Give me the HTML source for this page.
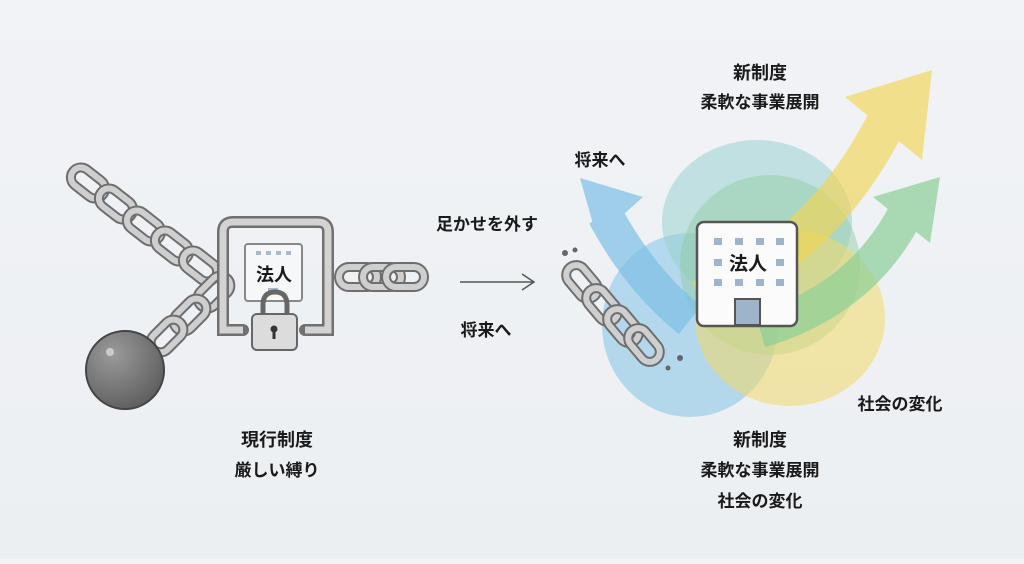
<!DOCTYPE html>
<html><head><meta charset="utf-8"><style>
html,body{margin:0;padding:0}
body{width:1024px;height:559px;overflow:hidden;background:linear-gradient(180deg,#f1f3f6,#eceff2);font-family:"Liberation Sans","Noto Sans CJK JP",sans-serif}
svg text{font-family:"Liberation Sans","Noto Sans CJK JP",sans-serif;font-weight:bold;fill:#1a1a1a;text-anchor:middle}
</style></head><body>
<svg width="1024" height="559" viewBox="0 0 1024 559">
<defs>
<g id="lk"><rect x="-19" y="-10" width="38" height="20" rx="10" fill="none" stroke="#6e6e6e" stroke-width="10"/><rect x="-19" y="-10" width="38" height="20" rx="10" fill="none" stroke="#cfcfcf" stroke-width="6"/></g>
<radialGradient id="ball" cx="0.35" cy="0.3" r="0.8"><stop offset="0" stop-color="#9a9a9a"/><stop offset="1" stop-color="#5a5a5a"/></radialGradient>
</defs>
<!-- upper-left chain -->
<g transform="translate(88,183) rotate(38)"><use href="#lk"/></g>
<g transform="translate(116,204) rotate(38)"><use href="#lk"/></g>
<g transform="translate(144,226) rotate(38)"><use href="#lk"/></g>
<g transform="translate(172,246) rotate(38)"><use href="#lk"/></g>
<g transform="translate(200,266) rotate(38)"><use href="#lk"/></g>
<!-- lower chain to ball -->
<g transform="translate(214,292) rotate(-45)"><use href="#lk"/></g>
<g transform="translate(190,315) rotate(-45)"><use href="#lk"/></g>
<g transform="translate(167,336) rotate(-45)"><use href="#lk"/></g>
<circle cx="125" cy="370" r="39" fill="url(#ball)" stroke="#444" stroke-width="2"/>
<circle cx="110" cy="352" r="4" fill="#ccc"/>
<!-- right chain -->
<g transform="translate(358,277)"><use href="#lk"/></g>
<g transform="translate(382,277)"><use href="#lk"/></g>
<g transform="translate(405,277)"><use href="#lk"/></g>
<!-- box -->
<path d="M243,330 H223 V232 Q223,222 233,222 H318 Q328,222 328,232 V330 H305" fill="none" stroke="#707070" stroke-width="12" stroke-linecap="round"/>
<path d="M243,330 H223 V232 Q223,222 233,222 H318 Q328,222 328,232 V330 H305" fill="none" stroke="#d3d3d3" stroke-width="7"/>
<rect x="245" y="244" width="57" height="57" rx="3" fill="#f6f7f9" stroke="#888" stroke-width="2"/>
<g fill="#a9bbcc"><rect x="256" y="251" width="5" height="4"/><rect x="266" y="251" width="5" height="4"/><rect x="276" y="251" width="5" height="4"/><rect x="286" y="251" width="5" height="4"/><rect x="268" y="288" width="10" height="4"/></g>
<text x="274" y="281" font-size="18">法人</text>
<!-- lock -->
<path d="M263,315 V305 Q263,292 275,292 Q287,292 287,305 V315" fill="none" stroke="#666" stroke-width="5"/>
<rect x="252" y="314" width="45" height="36" rx="5" fill="#dcdcdc" stroke="#666" stroke-width="2"/>
<circle cx="274" cy="329" r="3.5" fill="#333"/><rect x="272.5" y="330" width="3" height="9" fill="#333"/>
<!-- middle -->
<text x="487" y="230" font-size="17">足かせを外す</text>
<line x1="460" y1="282" x2="533" y2="282" stroke="#555" stroke-width="1.5"/>
<path d="M522,274 L534,282 L522,290" fill="none" stroke="#555" stroke-width="1.5"/>
<text x="486" y="336" font-size="17">将来へ</text>
<!-- blobs -->
<ellipse cx="690" cy="325" rx="88" ry="92" fill="#8cc8e8" opacity="0.6"/>
<ellipse cx="757" cy="222" rx="95" ry="82" fill="#9ad2cf" opacity="0.55"/>
<ellipse cx="770" cy="265" rx="90" ry="90" fill="#8fcca0" opacity="0.45"/>
<ellipse cx="790" cy="318" rx="95" ry="88" fill="#f2d968" opacity="0.55"/>
<!-- arrows -->
<g opacity="0.7">
<path d="M690,320 Q640,280 605,215" fill="none" stroke="#7cc0e6" stroke-width="36"/>
<path d="M580,178 L643,197 L597,238 Z" fill="#7cc0e6"/>
</g>
<g opacity="0.65">
<path d="M700,300 Q820,250 885,125" fill="none" stroke="#f2d555" stroke-width="40"/>
<path d="M932,70 L845,97 L922,160 Z" fill="#f2d555"/>
</g>
<g opacity="0.7">
<path d="M760,330 Q860,300 905,215" fill="none" stroke="#8ccf98" stroke-width="36"/>
<path d="M940,177 L873,197 L930,243 Z" fill="#8ccf98"/>
</g>
<!-- broken chain -->
<g transform="translate(582,282) rotate(50)"><use href="#lk"/></g>
<g transform="translate(602,305) rotate(50)"><use href="#lk"/></g>
<g transform="translate(623,326) rotate(50)"><use href="#lk"/></g>
<g transform="translate(644,345) rotate(50)"><use href="#lk"/></g>
<g fill="#666"><circle cx="565" cy="253" r="3"/><circle cx="575" cy="250" r="2.5"/><circle cx="680" cy="358" r="3"/><circle cx="668" cy="368" r="2.5"/></g>
<!-- building -->
<rect x="697" y="222" width="100" height="104" rx="7" fill="#fbfbfc" stroke="#555" stroke-width="2.5"/>
<g fill="#9fb4c8"><rect x="714" y="238" width="8" height="7"/><rect x="735" y="238" width="8" height="7"/><rect x="756" y="238" width="8" height="7"/><rect x="776" y="238" width="8" height="7"/><rect x="714" y="259" width="8" height="7"/><rect x="776" y="259" width="8" height="7"/><rect x="714" y="279" width="8" height="7"/><rect x="735" y="279" width="8" height="7"/><rect x="756" y="279" width="8" height="7"/><rect x="776" y="279" width="8" height="7"/></g>
<rect x="735" y="299" width="25" height="26" fill="#9fb4c8" stroke="#555" stroke-width="2"/>
<text x="748" y="270" font-size="19">法人</text>
<!-- labels -->
<text x="760" y="79" font-size="18">新制度</text>
<text x="760" y="108" font-size="17">柔軟な事業展開</text>
<text x="600" y="166" font-size="17">将来へ</text>
<text x="900" y="410" font-size="17">社会の変化</text>
<text x="760" y="446" font-size="18">新制度</text>
<text x="760" y="476" font-size="17">柔軟な事業展開</text>
<text x="760" y="507" font-size="17">社会の変化</text>
<text x="277" y="446" font-size="18">現行制度</text>
<text x="277" y="476" font-size="17">厳しい縛り</text>
</svg>
</body></html>
